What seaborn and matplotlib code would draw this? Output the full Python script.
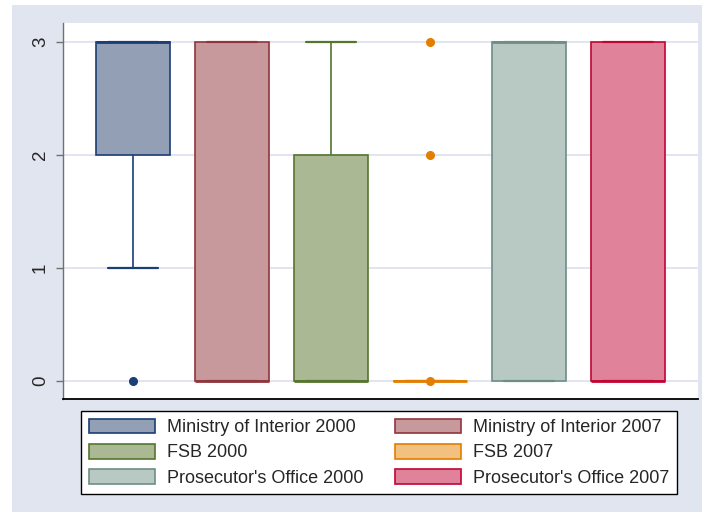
import numpy as np
import pandas as pd
import seaborn as sns
import matplotlib.pyplot as plt
from matplotlib.patches import Rectangle, Patch

# ---- data ----
groups = ["Ministry of Interior 2000", "Ministry of Interior 2007",
          "FSB 2000", "FSB 2007",
          "Prosecutor's Office 2000", "Prosecutor's Office 2007"]
score_levels = [0, 1, 2, 3]
# number of responses at each score level (0,1,2,3)
counts_moi_2000 = [1, 2, 5, 12]
counts_moi_2007 = [11, 2, 2, 6]
counts_fsb_2000 = [12, 2, 5, 3]
counts_fsb_2007 = [18, 0, 1, 1]
counts_pros_2000 = [7, 2, 2, 12]
counts_pros_2007 = [12, 1, 3, 7]
all_counts = [counts_moi_2000, counts_moi_2007, counts_fsb_2000,
              counts_fsb_2007, counts_pros_2000, counts_pros_2007]

fills = ["#929fb5", "#c8999c", "#aab893", "#f2c080", "#b8c8c2", "#e0829a"]
edges = ["#1a3e75", "#90353b", "#55752f", "#e37e00", "#6e8e84", "#c10534"]

rows = []
for g, c in zip(groups, all_counts):
    for lvl, n in zip(score_levels, c):
        rows += [(g, lvl)] * n
df = pd.DataFrame(rows, columns=["group", "score"])

# ---- figure ----
sns.set_style("white")
plt.rcParams["font.family"] = ["Liberation Sans", "DejaVu Sans"]

W, H = 702, 512
fig = plt.figure(figsize=(W / 100, H / 100), dpi=100, facecolor="white")
fig.patches.append(Rectangle((12 / W, 0), 1, (H - 5) / H, transform=fig.transFigure,
                             facecolor="#e1e5ef", edgecolor="none", zorder=-10))
ax = fig.add_axes([63 / W, (H - 399) / H, 635 / W, 376 / H])
ax.set_facecolor("white")

BOX_W = 0.74
CAP_HALF = 0.2575
for i, g in enumerate(groups):
    sub = df[df["group"] == g]
    n_before = len(ax.lines)
    sns.boxplot(data=sub, x="group", y="score", order=groups, ax=ax,
                color=fills[i], linecolor=edges[i], saturation=1,
                width=BOX_W, linewidth=1.2, fliersize=5.5,
                flierprops=dict(marker="o", markerfacecolor=edges[i],
                                markeredgecolor=edges[i]),
                medianprops=dict(color=edges[i], linewidth=2.0),
                whiskerprops=dict(color=edges[i], linewidth=1.2),
                capprops=dict(color=edges[i], linewidth=1.6))
    # widen the whisker caps (Stata style)
    for ln in ax.lines[n_before:]:
        x = np.asarray(ln.get_xdata(), dtype=float)
        y = np.asarray(ln.get_ydata(), dtype=float)
        if len(x) == 2 and y[0] == y[1] and abs(x[1] - x[0]) < 0.6 * BOX_W:
            c = x.mean()
            ln.set_xdata([c - CAP_HALF, c + CAP_HALF])

# marker at median of the collapsed FSB 2007 box
sub = df[df["group"] == groups[3]]["score"]
ax.scatter([3], [np.median(sub)], s=30, color=edges[3], zorder=5)

ax.set_xlim(-0.707, 5.707)
ax.set_ylim(-0.16, 3.17)
ax.set_xticks([])
ax.set_xlabel("")
ax.set_ylabel("")
ax.set_yticks([0, 1, 2, 3])
ax.set_yticklabels(["0", "1", "2", "3"], rotation=90, va="center", fontsize=13.5)
ax.tick_params(axis="y", left=True, length=5, width=1, color="#707070", pad=5)
ax.yaxis.grid(True, color="#dfe3ee", linewidth=1.3)
ax.set_axisbelow(True)
for s in ["top", "right"]:
    ax.spines[s].set_visible(False)
ax.spines["left"].set_color("#707070")
ax.spines["left"].set_linewidth(1.0)
ax.spines["bottom"].set_color("black")
ax.spines["bottom"].set_linewidth(1.3)

# ---- legend ----
order = [0, 2, 4, 1, 3, 5]
handles = [Patch(facecolor=fills[i], edgecolor=edges[i], linewidth=1.2) for i in order]
labels = [groups[i] for i in order]
fs = 13
leg = fig.legend(handles, labels, ncol=2, loc="upper left",
                 bbox_to_anchor=(81 / W, 1 - 411 / H),
                 fontsize=fs, frameon=True, fancybox=False, framealpha=1,
                 edgecolor="black", handlelength=3.7, handleheight=0.886,
                 handletextpad=0.66, labelspacing=0.42, borderpad=0.42,
                 borderaxespad=0, columnspacing=1.7)
leg.get_frame().set_linewidth(1.0)

fig.savefig("out.png", dpi=100, facecolor=fig.get_facecolor())
